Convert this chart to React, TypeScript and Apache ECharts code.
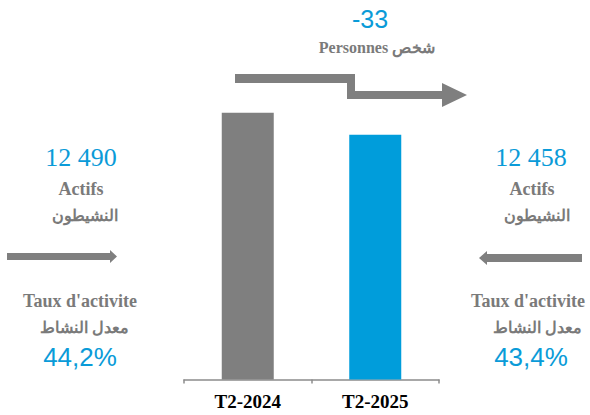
import React, { useEffect, useRef } from "react";
import * as echarts from "echarts";

const categories = ["T2-2024", "T2-2025"];
const actifs = [12490, 12458];
const barColors = ["#7f7f7f", "#009ddb"];
const actifsLabels = ["12 490", "12 458"];
const tauxLabels = ["44,2%", "43,4%"];
const diffLabel = "-33";

const BLUE = "#0a9bd8";
const GRAY = "#7a7a7a";
const SERIF = "Liberation Serif";
const SANS = "Liberation Sans";

function txt(text: string, x: number, y: number, size: number, color: string, bold: boolean, family: string) {
  const style: any = {
    text,
    fill: color,
    fontFamily: family,
    fontSize: size,
    textAlign: "center",
    textVerticalAlign: "middle",
  };
  if (bold) style.fontWeight = "bold";
  return { type: "text", x, y, style };
}

export default function App() {
  const ref = useRef<HTMLDivElement>(null);
  useEffect(() => {
    if (!ref.current) return;
    const chart = echarts.init(ref.current, null, { renderer: "svg" });
    chart.setOption({
      animation: false,
      grid: { left: 184, right: 151, top: 106, bottom: 35.5 },
      xAxis: {
        type: "category",
        data: categories,
        axisLine: { show: true, lineStyle: { color: "#8c8c8c", width: 1.5 } },
        axisTick: { show: true, length: 4, lineStyle: { color: "#8c8c8c", width: 1.5 } },
        axisLabel: {
          color: "#000",
          fontWeight: "bold",
          fontSize: 19,
          fontFamily: SERIF,
          margin: 12,
        },
      },
      yAxis: { type: "value", min: 12100, max: 12500, show: false, splitLine: { show: false } },
      series: [
        {
          type: "bar",
          barWidth: 52,
          data: actifs.map((v, i) => ({ value: v, itemStyle: { color: barColors[i] } })),
        },
      ],
      graphic: [
        {
          type: "polygon",
          shape: {
            points: [
              [235, 74], [355, 74], [355, 91], [442, 91], [442, 83], [467, 95],
              [442, 107], [442, 99], [347, 99], [347, 83], [235, 83],
            ],
          },
          style: { fill: "#7f7f7f" },
        },
        {
          type: "polygon",
          shape: {
            points: [[7, 253], [110, 253], [110, 250], [117, 256.5], [110, 263], [110, 260], [7, 260]],
          },
          style: { fill: "#7f7f7f" },
        },
        {
          type: "polygon",
          shape: {
            points: [[582, 254], [487, 254], [487, 251], [479, 258], [487, 265], [487, 262], [582, 262]],
          },
          style: { fill: "#7f7f7f" },
        },
        txt(diffLabel, 370, 19, 25, BLUE, false, SANS),
        txt("Personnes شخص", 377, 47, 16, GRAY, true, SERIF),
        txt(actifsLabels[0], 81, 157, 26, BLUE, false, SERIF),
        txt("Actifs", 81, 189, 18, GRAY, true, SERIF),
        txt("النشيطون", 85, 215, 16, GRAY, true, SERIF),
        txt("Taux d'activite", 80, 301, 18, GRAY, true, SERIF),
        txt("معدل النشاط", 84, 327, 16, GRAY, true, SERIF),
        txt(tauxLabels[0], 80, 357, 26, BLUE, false, SANS),
        txt(actifsLabels[1], 531, 157, 26, BLUE, false, SERIF),
        txt("Actifs", 532, 189, 18, GRAY, true, SERIF),
        txt("النشيطون", 537, 215, 16, GRAY, true, SERIF),
        txt("Taux d'activite", 528, 301, 18, GRAY, true, SERIF),
        txt("معدل النشاط", 537, 327, 16, GRAY, true, SERIF),
        txt(tauxLabels[1], 531, 357, 26, BLUE, false, SANS),
      ],
    });
    return () => chart.dispose();
  }, []);
  return (
    <div
      ref={ref}
      style={{ position: "absolute", left: 0, top: 0, width: 590, height: 415, background: "#fff" }}
    />
  );
}
